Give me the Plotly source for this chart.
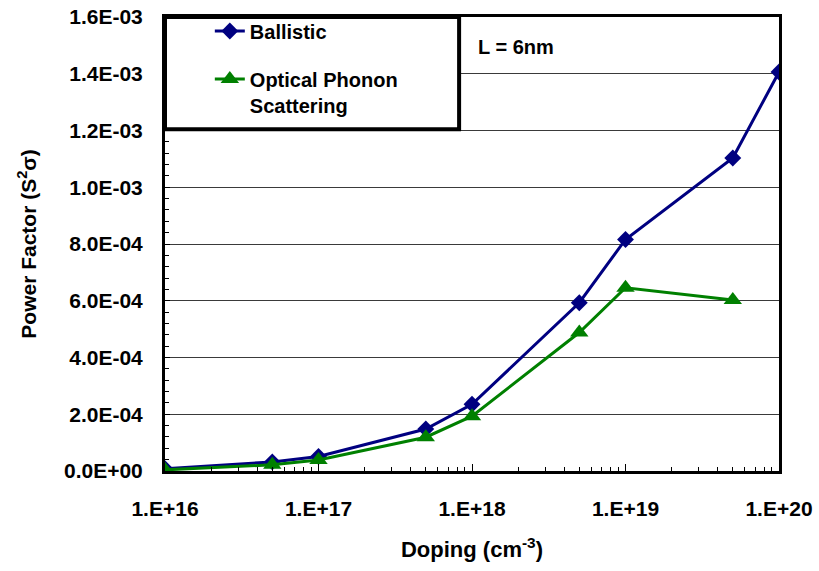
import plotly.graph_objects as go

# Doping levels (cm^-3)
doping = [1e16, 5e16, 1e17, 5e17, 1e18, 5e18, 1e19, 5e19, 1e20]
# Power factor, ballistic transport
ballistic = [8e-6, 3.2e-5, 5.1e-5, 1.48e-4, 2.35e-4, 5.93e-4, 8.16e-4, 1.103e-3, 1.406e-3]
# Power factor with optical phonon scattering (no point at 1e20)
doping_op = [1e16, 5e16, 1e17, 5e17, 1e18, 5e18, 1e19, 5e19]
optical = [4e-6, 2.2e-5, 3.9e-5, 1.19e-4, 1.93e-4, 4.88e-4, 6.46e-4, 6.03e-4]

y_tickvals = [0, 2e-4, 4e-4, 6e-4, 8e-4, 1.0e-3, 1.2e-3, 1.4e-3, 1.6e-3]
y_ticktext = ["0.0E+00", "2.0E-04", "4.0E-04", "6.0E-04", "8.0E-04",
              "1.0E-03", "1.2E-03", "1.4E-03", "1.6E-03"]
x_tickvals = [1e16, 1e17, 1e18, 1e19, 1e20]
x_ticktext = ["1.E+16", "1.E+17", "1.E+18", "1.E+19", "1.E+20"]
x_minor = [float(k) * 10.0 ** e for e in range(16, 20) for k in range(2, 10)]

FONT = "Liberation Sans, Arial, sans-serif"

fig = go.Figure()
fig.add_trace(go.Scatter(
    x=doping, y=ballistic, name="Ballistic", legendgroup="a",
    mode="lines+markers",
    line=dict(color="#000080", width=3),
    marker=dict(symbol="diamond", size=13, color="#000080"),
))
fig.add_trace(go.Scatter(
    x=doping_op, y=optical, name="Optical Phonon<br>Scattering", legendgroup="b",
    mode="lines+markers",
    line=dict(color="#008000", width=3),
    marker=dict(symbol="triangle-up", size=16, color="#008000"),
))

# legend frame
fig.add_shape(type="rect", xref="paper", yref="paper",
              x0=0, x1=0.479, y0=0.753, y1=1.0,
              line=dict(color="black", width=4), fillcolor="white", layer="above")

fig.add_annotation(text="L = 6nm", xref="paper", yref="paper",
                   x=0.506, y=0.934, xanchor="left", yanchor="middle",
                   showarrow=False,
                   font=dict(family=FONT, size=20, color="black", weight="bold"))

fig.update_layout(
    width=819, height=571, autosize=False,
    margin=dict(l=165, r=40, t=14, b=100),
    plot_bgcolor="white", paper_bgcolor="white",
    showlegend=True,
    legend=dict(
        x=0.073, y=1.012, xanchor="left", yanchor="top",
        bgcolor="rgba(0,0,0,0)", borderwidth=0,
        font=dict(family=FONT, size=20, color="black", weight="bold"),
        tracegroupgap=19, valign="top",
    ),
)

fig.update_xaxes(
    type="log", range=[16, 20], automargin=False,
    tickvals=x_tickvals, ticktext=x_ticktext,
    ticks="inside", ticklen=7, tickwidth=1, tickcolor="black",
    minor=dict(tickvals=x_minor, ticks="inside", ticklen=4, tickwidth=1,
               tickcolor="black", showgrid=False),
    showgrid=False, zeroline=False,
    showline=True, linecolor="black", linewidth=3, mirror=True,
    tickfont=dict(family=FONT, size=21, color="black", weight="bold"),
    ticklabelstandoff=17,
    title=dict(text="Doping (cm<sup>-3</sup>)", standoff=23,
               font=dict(family=FONT, size=22, color="black", weight="bold")),
)

fig.update_yaxes(
    range=[0, 1.6e-3], automargin=False,
    tickvals=y_tickvals, ticktext=y_ticktext,
    ticks="inside", ticklen=5, tickwidth=1, tickcolor="black",
    minor=dict(dtick=4e-5, ticks="inside", ticklen=4, tickwidth=1,
               tickcolor="black", showgrid=False),
    showgrid=True, gridcolor="#3a3a3a", gridwidth=1, zeroline=False,
    showline=True, linecolor="black", linewidth=3, mirror=True,
    tickfont=dict(family=FONT, size=21, color="black", weight="bold"),
    ticklabelstandoff=15,
    title=dict(text="Power Factor (S<sup>2</sup>σ)", standoff=22,
               font=dict(family=FONT, size=21, color="black", weight="bold")),
)

fig.write_html("out.html")
